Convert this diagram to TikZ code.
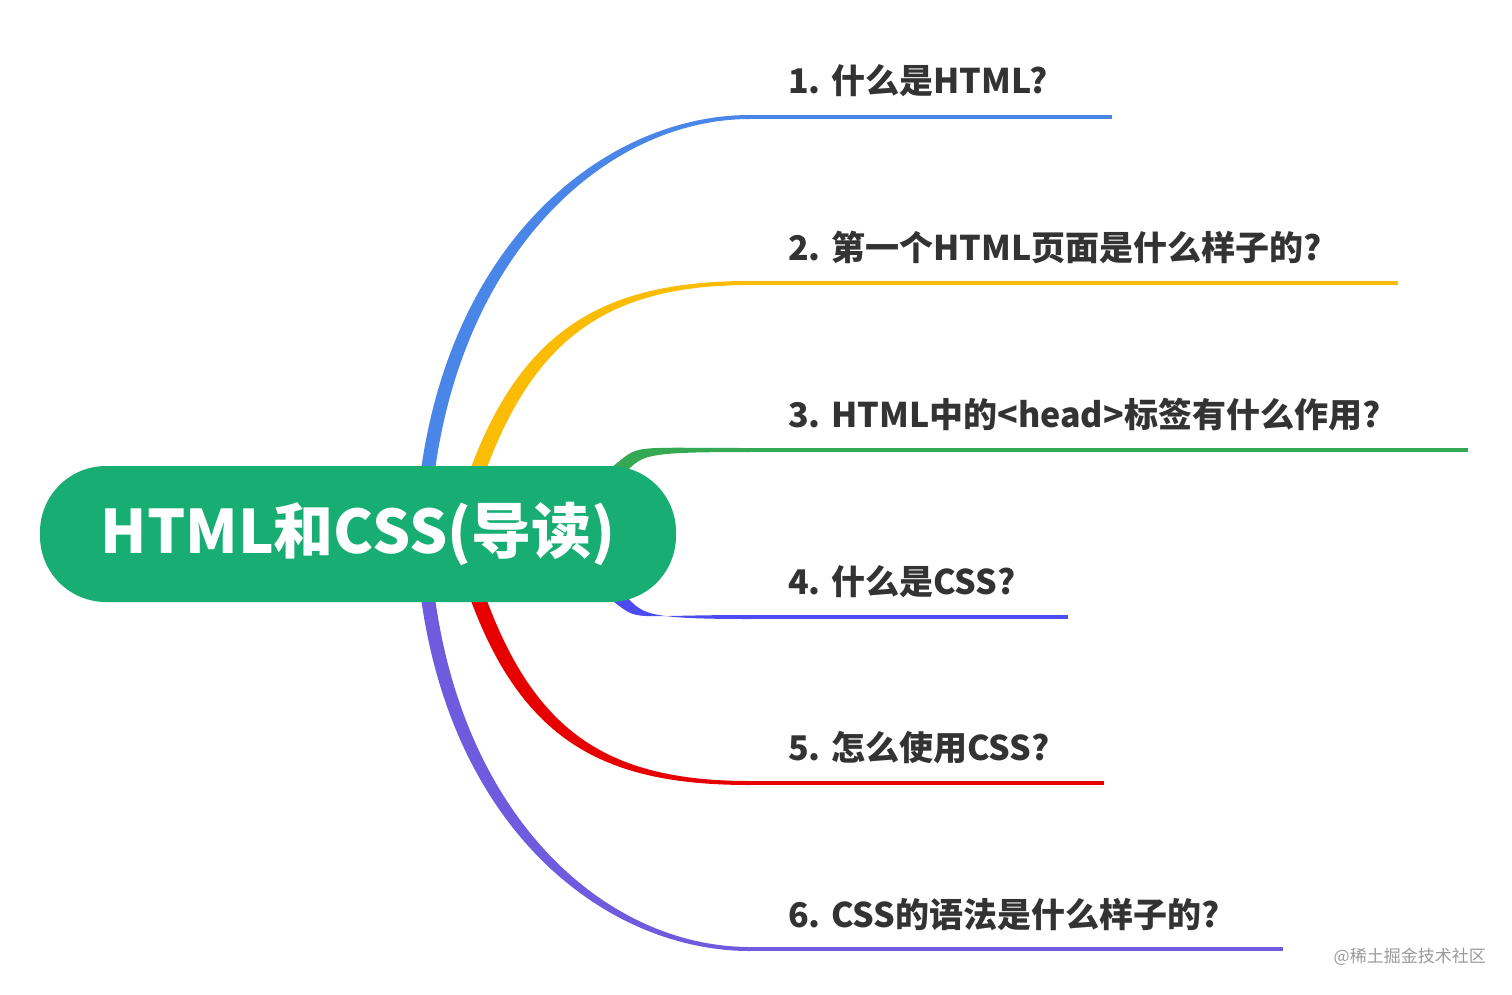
\documentclass[tikz,border=0pt]{standalone}
\usepackage{fontspec}
\setmainfont{Noto Sans CJK SC}
\usetikzlibrary{positioning,calc}
\definecolor{cgreen}{HTML}{17AD73}
\definecolor{cblue}{HTML}{4A86E8}
\definecolor{cyellow}{HTML}{FBBC05}
\definecolor{cleaf}{HTML}{34A853}
\definecolor{cindigo}{HTML}{4B4BF0}
\definecolor{cred}{HTML}{E60000}
\definecolor{cpurple}{HTML}{6E5BDD}
\definecolor{ctext}{HTML}{333333}

% #1 colour, #2 start, #3 first control, #4 row y, #5 start offset, #6 control offset, #7 line end x
\newcommand{\branch}[7]{
	\fill [#1] ($#2-#5$) .. controls ($#3-#6$) and (610,{#4-2}) .. (750,{#4-2})
		-- (750,{#4+2}) .. controls (610,{#4+2}) and ($#3+#6$) .. ($#2+#5$) -- cycle;
	\coordinate (s#4) at (750,#4);
	\coordinate (e#4) at (#7,#4);
	\draw [#1, line width=4] (s#4) -- (e#4);
}

\begin{document}
\begin{tikzpicture}
	[
		x = 1pt, y = -1pt,
		topic/.style = {fill=cgreen, rounded corners=66, minimum width=636, minimum height=136,
			text=white, font=\bfseries\fontsize{60}{66}\selectfont, inner sep=0},
		label/.style = {anchor=south west, text=ctext, font=\bfseries\fontsize{34}{36}\selectfont, inner sep=0}
	]
	\useasboundingbox (0,0) rectangle (1512,994);

	\branch{cblue}{(428,470)}{(460,240)}{117}{(7,0)}{(6,6)}{1112}
	\branch{cyellow}{(478,470)}{(530,330)}{283}{(8,0)}{(6,6)}{1398}
	\branch{cleaf}{(600,485)}{(650,450)}{450}{(0,9)}{(3,7)}{1468}
	\branch{cindigo}{(600,583)}{(650,617)}{617}{(0,-9)}{(3,-7)}{1068}
	\branch{cred}{(478,598)}{(530,740)}{783}{(-8,0)}{(-6,6)}{1104}
	\branch{cpurple}{(428,598)}{(460,830)}{949}{(-7,0)}{(-6,6)}{1283}

	\node [topic] (root) at (358,534) {HTML和CSS(导读)};

	\node [label] (t1) at (788,97) {1. 什么是HTML?};
	\node [label] (t2) at (788,264) {2. 第一个HTML页面是什么样子的?};
	\node [label] (t3) at (788,431) {3. HTML中的<head>标签有什么作用?};
	\node [label] (t4) at (788,598) {4. 什么是CSS?};
	\node [label] (t5) at (788,764) {5. 怎么使用CSS?};
	\node [label] (t6) at (788,931) {6. CSS的语法是什么样子的?};

	\node [text=black!40, font=\fontsize{17}{18}\selectfont, anchor=east, inner sep=0] (mark) at (1486,957) {@稀土掘金技术社区};
\end{tikzpicture}
\end{document}
